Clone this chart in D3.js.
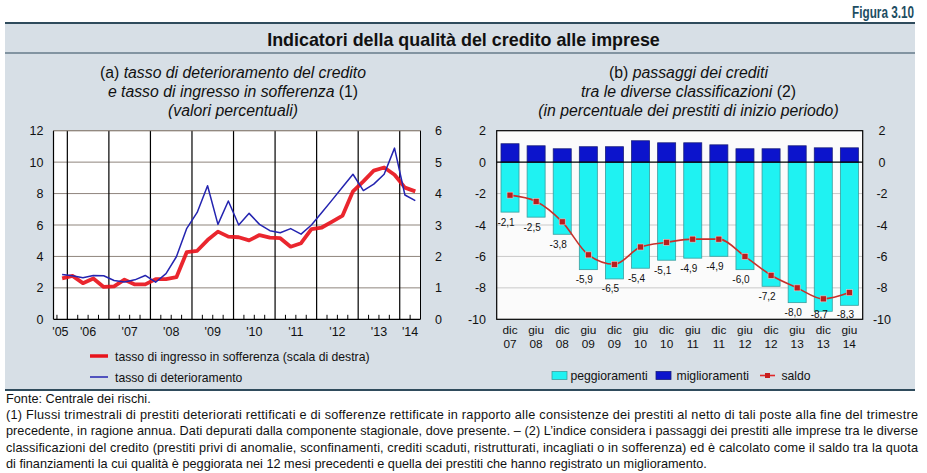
<!DOCTYPE html>
<html><head><meta charset="utf-8">
<script src="https://cdn.jsdelivr.net/npm/d3@7"></script>
<style>body{margin:0;background:#fff} svg{display:block}</style>
</head><body><svg id="c" width="927" height="473"></svg>
<script>
// ---------- DATA ----------
const quarters = ["2005Q4",
  "2006Q1","2006Q2","2006Q3","2006Q4",
  "2007Q1","2007Q2","2007Q3","2007Q4",
  "2008Q1","2008Q2","2008Q3","2008Q4",
  "2009Q1","2009Q2","2009Q3","2009Q4",
  "2010Q1","2010Q2","2010Q3","2010Q4",
  "2011Q1","2011Q2","2011Q3","2011Q4",
  "2012Q1","2012Q2","2012Q3","2012Q4",
  "2013Q1","2013Q2","2013Q3","2013Q4",
  "2014Q1","2014Q2"];
const tassoDeterioramento = [2.85,
  2.77,2.64,2.79,2.77, 2.47,2.38,2.51,2.79, 2.36,2.91,3.98,5.79,
  6.80,8.50,6.04,7.53, 6.00,6.74,6.04,5.64, 5.51,5.77,5.42,6.00,
  6.80,7.60,8.42,9.23, 8.19,8.60,9.23,10.89, 7.91,7.55];
const tassoSofferenza = [1.30,
  1.38,1.15,1.30,1.03, 1.05,1.26,1.11,1.11, 1.28,1.28,1.34,2.14,
  2.18,2.52,2.79,2.63, 2.61,2.51,2.68,2.60, 2.58,2.31,2.42,2.87,
  2.92,3.11,3.30,4.07, 4.39,4.73,4.83,4.60, 4.19,4.07];
const years = [2005,2006,2007,2008,2009,2010,2011,2012,2013,2014];
const yearLabels = ["'05","'06","'07","'08","'09","'10","'11","'12","'13","'14"];
const ticksLeftA = [0,2,4,6,8,10,12];
const ticksRightA = [0,1,2,3,4,5,6];

const periods = ["dic 07","giu 08","dic 08","giu 09","dic 09","giu 10","dic 10",
                 "giu 11","dic 11","giu 12","dic 12","giu 13","dic 13","giu 14"];
const peggioramenti = [-3.18,-3.50,-4.59,-6.84,-7.43,-6.75,-6.24,-6.11,-5.99,-6.84,-7.90,-8.94,-9.49,-9.11];
const miglioramenti = [1.17,1.04,0.85,0.98,0.98,1.36,1.23,1.23,1.10,0.85,0.85,1.04,0.91,0.91];
const saldo = [-2.1,-2.5,-3.8,-5.9,-6.5,-5.4,-5.1,-4.9,-4.9,-6.0,-7.2,-8.0,-8.7,-8.3];
const ticksB = [-10,-8,-6,-4,-2,0,2];

// ---------- STYLE ----------
const SANS = "'Liberation Sans', Arial, Helvetica, sans-serif";
const NARROW = "'Liberation Sans Narrow', 'Arial Narrow', 'Liberation Sans', sans-serif";
const svg = d3.select("#c");

// panel
svg.append("rect").attr("x",5).attr("y",23).attr("width",910).attr("height",367).attr("fill","#d7dfe6");
svg.append("line").attr("x1",5).attr("x2",915).attr("y1",23).attr("y2",23).attr("stroke","#2f4b5c").attr("stroke-width",2);
svg.append("line").attr("x1",5).attr("x2",915).attr("y1",53).attr("y2",53).attr("stroke","#2f4b5c").attr("stroke-width",1.2);
svg.append("line").attr("x1",5).attr("x2",915).attr("y1",390).attr("y2",390).attr("stroke","#2f4b5c").attr("stroke-width",2);

// figure number: condensed by horizontal scaling
const fig = svg.append("g").attr("transform","translate(914,18)");
const figT = fig.append("text").attr("x",0).attr("y",0).attr("text-anchor","end")
  .attr("font-family",SANS).attr("font-weight","bold").attr("font-size",16).attr("fill","#1d4d62")
  .text("Figura 3.10");
fig.attr("transform",`translate(914,18) scale(${62/figT.node().getComputedTextLength()},1)`);

const ttl = svg.append("g");
const ttlT = ttl.append("text").attr("x",0).attr("y",0).attr("text-anchor","middle")
  .attr("font-family",SANS).attr("font-weight","bold").attr("font-size",18.5).attr("fill","#111")
  .text("Indicatori della qualità del credito alle imprese");
ttl.attr("transform",`translate(463.5,45.5) scale(${393/ttlT.node().getComputedTextLength()},1)`);

function subtitle(cx, y, parts){
  const t = svg.append("text").attr("x",cx).attr("y",y).attr("text-anchor","middle")
    .attr("font-family",SANS).attr("font-size",15.8).attr("fill","#111");
  parts.forEach(p=>t.append("tspan").attr("font-style",p[1]?"italic":"normal").text(p[0]));
}
subtitle(233, 77.5, [["(a) ",false],["tasso di deterioramento del credito",true]]);
subtitle(233, 97, [["e tasso di ingresso in sofferenza ",true],["(1)",false]]);
subtitle(233, 115.5, [["(valori percentuali)",true]]);
subtitle(688.5, 77.5, [["(b) ",false],["passaggi dei crediti",true]]);
subtitle(688.5, 97, [["tra le diverse classificazioni ",true],["(2)",false]]);
subtitle(688.5, 115.5, [["(in percentuale dei prestiti di inizio periodo)",true]]);

// ---------- LEFT CHART ----------
const L = {x0:53.5, x1:420.5, y0:130.7, y1:319.3};
const parseQ = q => +q.slice(0,4) + (+q.slice(5)-0.5)/4;
const xL = d3.scaleLinear().domain([2005.667, 2014.5]).range([L.x0, L.x1]);
const yL = d3.scaleLinear().domain([0,12]).range([L.y1, L.y0]);
const yR = d3.scaleLinear().domain([0,6]).range([L.y1, L.y0]);

const gL = svg.append("g");
gL.append("rect").attr("x",L.x0).attr("y",L.y0).attr("width",L.x1-L.x0).attr("height",L.y1-L.y0).attr("fill","#ffffff");
gL.selectAll(".hg").data(ticksLeftA.filter(d=>d>0)).join("line")
  .attr("x1",L.x0).attr("x2",L.x1).attr("y1",d=>yL(d)).attr("y2",d=>yL(d))
  .attr("stroke","#8f857d").attr("stroke-width",1);
const qTicks = [];
years.forEach(y=>[0.25,0.5,0.75].forEach(f=>{const v=y+f; if(v>xL.domain()[0] && v<xL.domain()[1]) qTicks.push(v);}));
gL.selectAll(".qt").data(qTicks).join("line")
  .attr("x1",d=>xL(d)).attr("x2",d=>xL(d)).attr("y1",L.y1).attr("y2",L.y1-4.5)
  .attr("stroke","#000").attr("stroke-width",1);
gL.selectAll(".vy").data(years.filter(y=>y>2005)).join("line")
  .attr("x1",d=>xL(d)).attr("x2",d=>xL(d)).attr("y1",L.y0).attr("y2",L.y1)
  .attr("stroke","#000").attr("stroke-width",1.2);
gL.append("line").attr("x1",L.x0).attr("x2",L.x0).attr("y1",L.y0).attr("y2",L.y1).attr("stroke","#000").attr("stroke-width",1.2);
gL.append("line").attr("x1",L.x1).attr("x2",L.x1).attr("y1",L.y0).attr("y2",L.y1).attr("stroke","#000").attr("stroke-width",1);
gL.append("line").attr("x1",L.x0).attr("x2",L.x1).attr("y1",L.y0).attr("y2",L.y0).attr("stroke","#8f857d").attr("stroke-width",1);
gL.append("line").attr("x1",L.x0).attr("x2",L.x1).attr("y1",L.y1).attr("y2",L.y1).attr("stroke","#000").attr("stroke-width",1.2);

const redLine = d3.line().x((d,i)=>xL(parseQ(quarters[i]))).y(d=>yR(d));
const blueLine = d3.line().x((d,i)=>xL(parseQ(quarters[i]))).y(d=>yL(d));
gL.append("path").datum(tassoSofferenza).attr("d",redLine).attr("fill","none")
  .attr("stroke","#e8141c").attr("stroke-width",3.8).attr("stroke-linejoin","round").attr("stroke-opacity",0.92);
gL.append("path").datum(tassoDeterioramento).attr("d",blueLine).attr("fill","none")
  .attr("stroke","#2424b0").attr("stroke-width",1.5).attr("stroke-linejoin","round");

gL.selectAll(".ylt").data(ticksLeftA).join("text")
  .attr("x",43.5).attr("y",d=>yL(d)+4.5).attr("text-anchor","end")
  .attr("font-family",SANS).attr("font-size",12.5).attr("fill","#111").text(d=>d);
gL.selectAll(".yrt").data(ticksRightA).join("text")
  .attr("x",435).attr("y",d=>yR(d)+4.5).attr("text-anchor","start")
  .attr("font-family",SANS).attr("font-size",12.5).attr("fill","#111").text(d=>d);
gL.selectAll(".xlt").data(years).join("text")
  .attr("x",d=>(xL(Math.max(d,xL.domain()[0]))+xL(Math.min(d+1,xL.domain()[1])))/2)
  .attr("y",335.5).attr("text-anchor","middle")
  .attr("font-family",SANS).attr("font-size",12.5).attr("fill","#111").text((d,i)=>yearLabels[i]);

// legend left
gL.append("line").attr("x1",90).attr("x2",108).attr("y1",356).attr("y2",356).attr("stroke","#e8141c").attr("stroke-width",3.5);
gL.append("text").attr("x",115).attr("y",360.5).attr("font-family",SANS).attr("font-size",12.2).attr("fill","#111")
  .text("tasso di ingresso in sofferenza (scala di destra)");
gL.append("line").attr("x1",90).attr("x2",108).attr("y1",377).attr("y2",377).attr("stroke","#2424b0").attr("stroke-width",1.5);
gL.append("text").attr("x",115).attr("y",381.5).attr("font-family",SANS).attr("font-size",12.2).attr("fill","#111")
  .text("tasso di deterioramento");

// ---------- RIGHT CHART ----------
const R = {x0:496.7, x1:862.7, y0:130.7, y1:319.3};
const xB = d3.scaleBand().domain(periods).range([R.x0,R.x1]).paddingInner(0.31).paddingOuter(0.165);
const yB = d3.scaleLinear().domain([-10,2]).range([R.y1,R.y0]);
const gR = svg.append("g");
gR.append("rect").attr("x",R.x0).attr("y",R.y0).attr("width",R.x1-R.x0).attr("height",R.y1-R.y0).attr("fill","#fbfbfb");
gR.selectAll(".hg").data(ticksB.filter(d=>d<0 && d>-10)).join("line")
  .attr("x1",R.x0).attr("x2",R.x1).attr("y1",d=>yB(d)).attr("y2",d=>yB(d))
  .attr("stroke","#c9c9c9").attr("stroke-width",1);

gR.selectAll(".bp").data(peggioramenti).join("rect")
  .attr("x",(d,i)=>xB(periods[i])).attr("width",xB.bandwidth())
  .attr("y",yB(0)).attr("height",d=>yB(d)-yB(0))
  .attr("fill","#1ff2f2").attr("stroke","#3a9e9e").attr("stroke-width",0.8);
gR.selectAll(".bm").data(miglioramenti).join("rect")
  .attr("x",(d,i)=>xB(periods[i])).attr("width",xB.bandwidth())
  .attr("y",d=>yB(d)).attr("height",d=>yB(0)-yB(d))
  .attr("fill","#0c14cc").attr("stroke","#1a1f7a").attr("stroke-width",0.8);
gR.append("line").attr("x1",R.x0).attr("x2",R.x1).attr("y1",yB(0)).attr("y2",yB(0)).attr("stroke","#000").attr("stroke-width",1.2);
gR.append("rect").attr("x",R.x0).attr("y",R.y0).attr("width",R.x1-R.x0).attr("height",R.y1-R.y0)
  .attr("fill","none").attr("stroke","#000").attr("stroke-width",1.2);

const cx = i => xB(periods[i]) + xB.bandwidth()/2;
const saldoLine = d3.line().x((d,i)=>cx(i)).y(d=>yB(d)).curve(d3.curveMonotoneX);
gR.append("path").datum(saldo).attr("d",saldoLine).attr("fill","none")
  .attr("stroke","#c8302a").attr("stroke-width",1.6);
gR.selectAll(".mk").data(saldo).join("rect")
  .attr("x",(d,i)=>cx(i)-3).attr("y",d=>yB(d)-3).attr("width",6).attr("height",6)
  .attr("fill","#b81e1e").attr("stroke","#f0c8c8").attr("stroke-width",0.6);
const fmt = v => d3.format(".1f")(v).replace("\u2212","-").replace(".",",");
gR.selectAll(".lb").data(saldo).join("text")
  .attr("x",(d,i)=>cx(i)-4)
  .attr("y",(d,i)=>Math.min(Math.max(yB(d)+20, yB(peggioramenti[i])+10), R.y1-5)+3.5)
  .attr("text-anchor","middle").attr("font-family",SANS).attr("font-size",10).attr("fill","#111")
  .text(d=>fmt(d));

gR.selectAll(".yl").data(ticksB).join("text")
  .attr("x",486).attr("y",d=>yB(d)+4.5).attr("text-anchor","end")
  .attr("font-family",SANS).attr("font-size",12.5).attr("fill","#111").text(d=>String(d));
gR.selectAll(".yr").data(ticksB).join("text")
  .attr("x",882).attr("y",d=>yB(d)+4.5).attr("text-anchor","middle")
  .attr("font-family",SANS).attr("font-size",12.5).attr("fill","#111").text(d=>String(d));
gR.selectAll(".xl1").data(periods).join("text")
  .attr("x",(d,i)=>cx(i)).attr("y",334).attr("text-anchor","middle")
  .attr("font-family",SANS).attr("font-size",11.8).attr("fill","#111").text(d=>d.split(" ")[0]);
gR.selectAll(".xl2").data(periods).join("text")
  .attr("x",(d,i)=>cx(i)).attr("y",347.5).attr("text-anchor","middle")
  .attr("font-family",SANS).attr("font-size",11.8).attr("fill","#111").text(d=>d.split(" ")[1]);

// legend right
gR.append("rect").attr("x",552).attr("y",371.5).attr("width",15).attr("height",8).attr("fill","#1ff2f2").attr("stroke","#3a9e9e").attr("stroke-width",0.8);
gR.append("text").attr("x",570.5).attr("y",380).attr("font-family",SANS).attr("font-size",12.2).attr("fill","#111").text("peggioramenti");
gR.append("rect").attr("x",656).attr("y",371.5).attr("width",15).attr("height",8).attr("fill","#0c14cc").attr("stroke","#1a1f7a").attr("stroke-width",0.8);
gR.append("text").attr("x",676.5).attr("y",380).attr("font-family",SANS).attr("font-size",12.2).attr("fill","#111").text("miglioramenti");
gR.append("line").attr("x1",760).attr("x2",775).attr("y1",375.5).attr("y2",375.5).attr("stroke","#e0282a").attr("stroke-width",1.6);
gR.append("rect").attr("x",765).attr("y",373).attr("width",5).attr("height",5).attr("fill","#c81e1e");
gR.append("text").attr("x",781.5).attr("y",380).attr("font-family",SANS).attr("font-size",12.2).attr("fill","#111").text("saldo");

// ---------- FOOTER ----------
const footer = [
 ["Fonte: Centrale dei rischi.", false],
 ["(1) Flussi trimestrali di prestiti deteriorati rettificati e di sofferenze rettificate in rapporto alle consistenze dei prestiti al netto di tali poste alla fine del trimestre", true],
 ["precedente, in ragione annua. Dati depurati dalla componente stagionale, dove presente. – (2) L’indice considera i passaggi dei prestiti alle imprese tra le diverse", true],
 ["classificazioni del credito (prestiti privi di anomalie, sconfinamenti, crediti scaduti, ristrutturati, incagliati o in sofferenza) ed è calcolato come il saldo tra la quota", true],
 ["di finanziamenti la cui qualità è peggiorata nei 12 mesi precedenti e quella dei prestiti che hanno registrato un miglioramento.", false]
];
const FS = 13.4;
const fg = footer.map((f,i)=>{
  const g = svg.append("g");
  const t = g.append("text").attr("x",0).attr("y",0)
    .attr("font-family",SANS).attr("font-size",FS).attr("fill","#111").text(f[0]);
  return {g,t,just:f[1],i};
});
const sc = Math.min(1, 905 / d3.max(fg.filter(o=>o.just), o=>o.t.node().getComputedTextLength()));
fg.forEach(o=>{
  o.g.attr("transform",`translate(6,${402.5+o.i*16.4}) scale(${sc},1)`);
  if (o.just) o.t.attr("textLength",912/sc).attr("lengthAdjust","spacing");
});
</script></body></html>
